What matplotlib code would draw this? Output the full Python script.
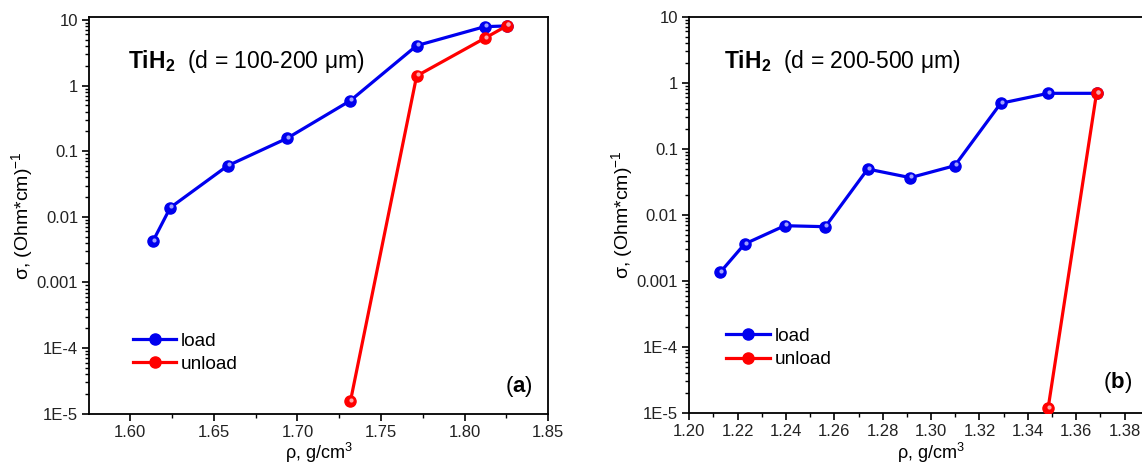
import matplotlib
matplotlib.use("Agg")
import matplotlib.pyplot as plt
from matplotlib.ticker import FixedLocator, FixedFormatter, MultipleLocator, LogLocator, NullFormatter
from matplotlib import transforms

plt.rcParams['font.family'] = ['Liberation Sans', 'DejaVu Sans']
plt.rcParams['mathtext.fontset'] = 'custom'
plt.rcParams['mathtext.rm'] = 'Liberation Sans'
plt.rcParams['mathtext.bf'] = 'Liberation Sans:bold'
plt.rcParams['mathtext.it'] = 'Liberation Sans:italic'

# panel (a): d = 100-200 um
rho_load_a = [1.6136, 1.6240, 1.6583, 1.6938, 1.7317, 1.7713, 1.8120, 1.8251]
sig_load_a = [0.00423, 0.0138, 0.060, 0.157, 0.59, 4.06, 7.9, 8.1]
rho_unload_a = [1.7317, 1.7713, 1.8120, 1.8251]
sig_unload_a = [1.54e-5, 1.40, 5.26, 8.1]

# panel (b): d = 200-500 um
rho_load_b = [1.2129, 1.2229, 1.2395, 1.2563, 1.2738, 1.2914, 1.3098, 1.3288, 1.3484, 1.3684]
sig_load_b = [0.00136, 0.00362, 0.00685, 0.00662, 0.0494, 0.0366, 0.0555, 0.489, 0.692, 0.692]
rho_unload_b = [1.3484, 1.3684]
sig_unload_b = [1.19e-5, 0.692]

ytick_vals = [1e-5, 1e-4, 1e-3, 1e-2, 0.1, 1, 10]
ytick_labels = ['1E-5', '1E-4', '0.001', '0.01', '0.1', '1', '10']


def sphere_line(ax, x, y, color, light, label):
    ax.plot(x, y, '-o', color=color, lw=2.3, ms=8, mfc=color, mec=color, label=label, zorder=3)
    # small highlight on the markers
    off = transforms.offset_copy(ax.transData, fig=ax.figure, x=1.0, y=1.5, units='dots')
    ax.plot(x, y, 'o', ms=3, color=light, mec='none', transform=off, zorder=4)


def style_axes(ax, xlim, ylim, major, minor):
    ax.set_yscale('log')
    ax.set_xlim(*xlim)
    ax.set_ylim(*ylim)
    ax.yaxis.set_major_locator(FixedLocator(ytick_vals))
    ax.yaxis.set_major_formatter(FixedFormatter(ytick_labels))
    ax.yaxis.set_minor_locator(LogLocator(base=10, subs=range(2, 10), numticks=20))
    ax.yaxis.set_minor_formatter(NullFormatter())
    ax.xaxis.set_major_locator(MultipleLocator(major))
    ax.xaxis.set_minor_locator(MultipleLocator(minor))
    ax.xaxis.set_major_formatter(plt.FuncFormatter(lambda v, p: '%.2f' % v))
    ax.tick_params(which='major', direction='out', length=5, width=1.2, labelsize=12,
                   labelcolor='#222222', pad=3)
    ax.tick_params(which='minor', direction='out', length=3, width=1)
    for s in ax.spines.values():
        s.set_linewidth(1.3)
    ax.set_xlabel(r'ρ, g/cm$^3$', fontsize=13, labelpad=1)
    ax.set_ylabel(r'σ, (Ohm*cm)$^{-1}$', fontsize=14, labelpad=1)


fig = plt.figure(figsize=(11.42, 4.68), dpi=100)
ax1 = fig.add_axes([0.0782, 0.1160, 0.4019, 0.8483])
ax2 = fig.add_axes([0.6035, 0.1175, 0.4236, 0.8468])

sphere_line(ax1, rho_load_a, sig_load_a, '#0000ee', '#a0a0ff', 'load')
sphere_line(ax1, rho_unload_a, sig_unload_a, '#ff0000', '#ffa8a8', 'unload')
style_axes(ax1, (1.5756, 1.85), (1e-5, 11.2), 0.05, 0.025)
ax1.text(0.085, 0.887, r'$\mathbf{TiH_2}$  (d = 100-200 μm)', transform=ax1.transAxes,
         fontsize=16.5, va='center')
ax1.text(0.937, 0.069, r'($\mathbf{a}$)', transform=ax1.transAxes, fontsize=16, va='center', ha='center')
ax1.legend(loc='center left', bbox_to_anchor=(0.0946, 0.154), frameon=False, fontsize=13.7,
           handlelength=2.3, handletextpad=0.25, labelspacing=0.32, borderpad=0, borderaxespad=0)

sphere_line(ax2, rho_load_b, sig_load_b, '#0000ee', '#a0a0ff', 'load')
sphere_line(ax2, rho_unload_b, sig_unload_b, '#ff0000', '#ffa8a8', 'unload')
style_axes(ax2, (1.20, 1.40), (1e-5, 10), 0.02, 0.01)
ax2.text(0.0728, 0.886, r'$\mathbf{TiH_2}$  (d = 200-500 μm)', transform=ax2.transAxes,
         fontsize=16.5, va='center')
ax2.text(0.885, 0.076, r'($\mathbf{b}$)', transform=ax2.transAxes, fontsize=16, va='center', ha='center')
ax2.legend(loc='center left', bbox_to_anchor=(0.076, 0.164), frameon=False, fontsize=13.7,
           handlelength=2.3, handletextpad=0.25, labelspacing=0.32, borderpad=0, borderaxespad=0)

fig.savefig('out.png', dpi=100)
